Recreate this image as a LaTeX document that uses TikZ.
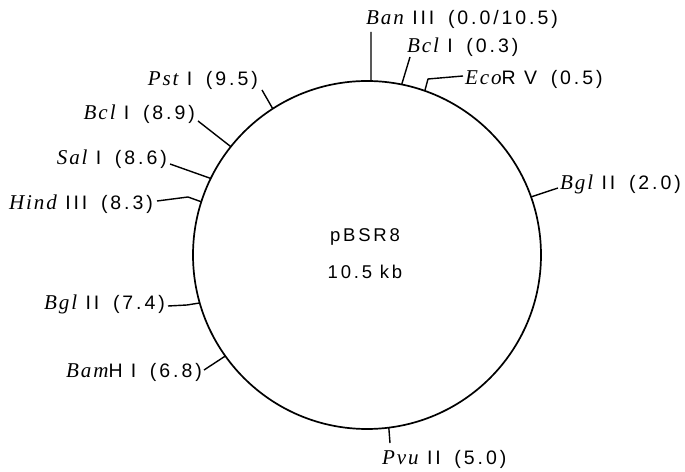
\documentclass[tikz,border=0pt]{standalone}
\usepackage{fontspec}
\setmainfont{Liberation Sans}[LetterSpace=15]
\newfontfamily\enzfont{Liberation Serif}[LetterSpace=9, Scale=1.08]
\usetikzlibrary{calc}
\newcommand\enz[1]{{\enzfont\itshape #1}}
\newcommand\gap{\hspace{0.7em}}
\begin{document}
\begin{tikzpicture}[x=1pt,y=1pt,
  ring/.style={line width=1.7pt},
  leader/.style={line width=1.4pt, line join=round},
  site/.style={font=\fontsize{19.5}{22}\selectfont, inner sep=0pt},
  title/.style={font=\fontsize{18.5}{21}\selectfont, inner sep=0pt}]
\useasboundingbox (0,0) rectangle (685,471);
\coordinate (O) at (367,216);
\def\R{174}
% plasmid ring
\draw[ring] (O) circle (\R);
\node[title] (name) at (365,234) {pBSR8};
\node[title] (size) at (365,199) {10.5 kb};

% positions of the restriction sites on the ring
\coordinate (banIII)  at ($(O)+(88.7:\R)$);
\coordinate (bclIa)   at ($(O)+(78.5:\R)$);
\coordinate (ecoRV)   at ($(O)+(70.6:\R)$);
\coordinate (bglIIa)  at ($(O)+(19.5:\R)$);
\coordinate (pvuII)   at ($(O)+(-82.8:\R)$);
\coordinate (bamHI)   at ($(O)+(215.5:\R)$);
\coordinate (bglIIb)  at ($(O)+(196:\R)$);
\coordinate (hindIII) at ($(O)+(162.2:\R)$);
\coordinate (salI)    at ($(O)+(153.9:\R)$);
\coordinate (bclIb)   at ($(O)+(141.5:\R)$);
\coordinate (pstI)    at ($(O)+(122.8:\R)$);

% site labels
\node[site, anchor=base west] (lbanIII) at (366,446) {\enz{Ban} III\gap(0.0/10.5)};
\node[site, anchor=base west] (lbclIa)  at (407,418) {\enz{Bcl} I\gap(0.3)};
\node[site, anchor=base west] (lecoRV)  at (465,386) {\enz{Eco}R V\gap(0.5)};
\node[site, anchor=base west] (lbglIIa) at (560,281) {\enz{Bgl} II\gap(2.0)};
\node[site, anchor=base west] (lpvuII)  at (382,6)   {\enz{Pvu} II\gap(5.0)};
\node[site, anchor=base east] (lbamHI)  at (202,93)  {\enz{Bam}H I\gap(6.8)};
\node[site, anchor=base east] (lbglIIb) at (165,161) {\enz{Bgl} II\gap(7.4)};
\node[site, anchor=base east] (lhindIII) at (153,261) {\enz{Hind} III\gap(8.3)};
\node[site, anchor=base east] (lsalI)   at (167,306) {\enz{Sal} I\gap(8.6)};
\node[site, anchor=base east] (lbclIb)  at (195,351) {\enz{Bcl} I\gap(8.9)};
\node[site, anchor=base east] (lpstI)   at (258,385) {\enz{Pst} I\gap(9.5)};

% free ends of the leader lines
\coordinate (ebanIII) at (371,439);
\coordinate (ebclIa)  at (410,414);
\coordinate (kecoRV)  at (428,392);
\coordinate (eecoRV)  at (463,395);
\coordinate (ebglIIa) at (558,283);
\coordinate (epvuII)  at (390,28);
\coordinate (ebamHI)  at (204,101);
\coordinate (kbglIIb) at (187,166);
\coordinate (ebglIIb) at (168,165);
\coordinate (khindIII) at (188,274);
\coordinate (ehindIII) at (157,270);
\coordinate (esalI)   at (170,307);
\coordinate (ebclIb)  at (198,350);
\coordinate (epstI)   at (262,381);

% leader lines
\draw[leader] (banIII) -- (ebanIII);
\draw[leader] (bclIa) -- (ebclIa);
\draw[leader] (ecoRV) -- (kecoRV) -- (eecoRV);
\draw[leader] (bglIIa) -- (ebglIIa);
\draw[leader] (pvuII) -- (epvuII);
\draw[leader] (bamHI) -- (ebamHI);
\draw[leader] (bglIIb) -- (kbglIIb) -- (ebglIIb);
\draw[leader] (hindIII) -- (khindIII) -- (ehindIII);
\draw[leader] (salI) -- (esalI);
\draw[leader] (bclIb) -- (ebclIb);
\draw[leader] (pstI) -- (epstI);
\end{tikzpicture}
\end{document}
